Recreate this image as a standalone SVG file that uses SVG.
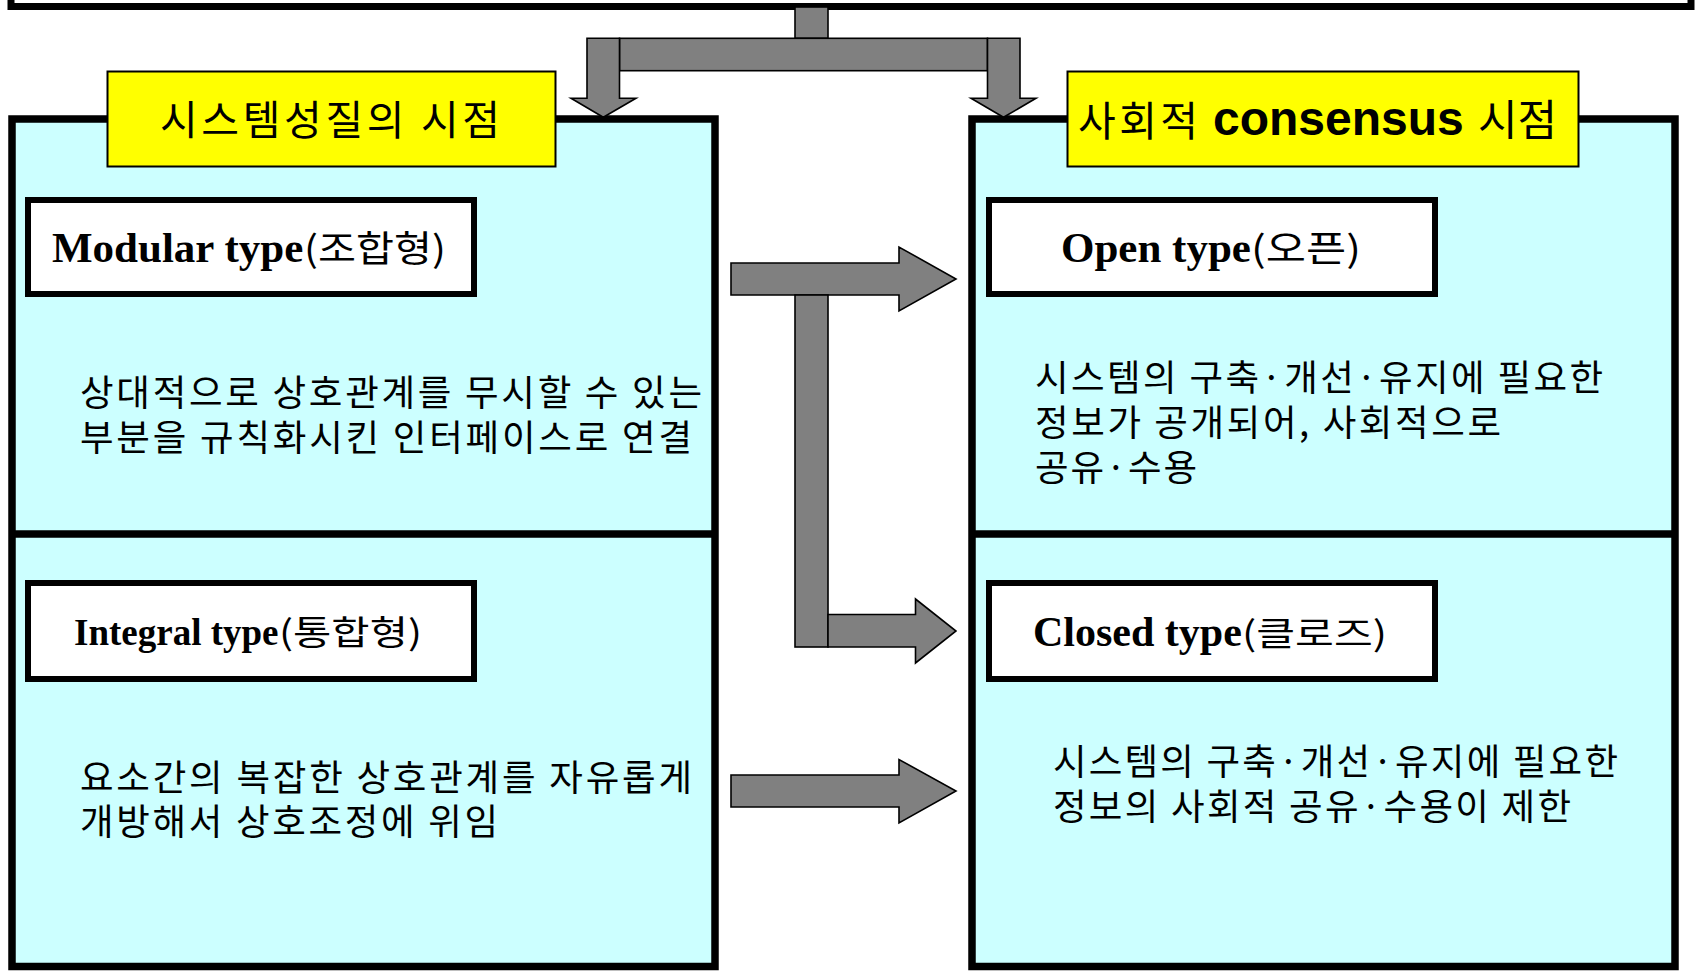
<svg xmlns="http://www.w3.org/2000/svg" width="1696" height="972" viewBox="0 0 1696 972">
  <style>
    .frame { fill: #FFFFFF; stroke: #000000; stroke-width: 7; }
    .panel { fill: #CCFFFF; stroke: #000000; stroke-width: 7.5; }
    .divider { stroke: #000000; stroke-width: 7.5; }
    .title { fill: #FFFF00; stroke: #000000; stroke-width: 2; }
    .label { fill: #FFFFFF; stroke: #000000; stroke-width: 6; }
    .conn { fill: #808080; stroke: #000000; stroke-width: 1.6; stroke-linejoin: miter; }
    .ko { font-family: "Noto Sans CJK KR", "Noto Sans CJK SC", sans-serif; fill: #000000; }
    .en { font-family: "Liberation Serif", "Times New Roman", serif; font-weight: bold; fill: #000000; }
    .ar { font-family: "Liberation Sans", Arial, sans-serif; font-weight: bold; fill: #000000; }
    .body { font-size: 36.5px; }
  </style>

  <rect width="1696" height="972" fill="#FFFFFF"/>

  <!-- parent box, only its lower edge is in view -->
  <g id="source">
    <rect class="frame" x="11" y="-30" width="1680" height="36.5"/>
  </g>

  <!-- left column: system-property viewpoint -->
  <g id="system-view">
    <rect class="panel" x="12" y="119" width="703" height="847.5"/>
    <line class="divider" x1="12" y1="534" x2="715" y2="534"/>
  </g>

  <!-- right column: social consensus viewpoint -->
  <g id="social-view">
    <rect class="panel" x="972" y="119" width="703" height="847.5"/>
    <line class="divider" x1="972" y1="534" x2="1675" y2="534"/>
  </g>

  <g id="modular">
    <rect class="label" x="28" y="200" width="446" height="94"/>
    <text x="52" y="262"><tspan class="en" font-size="43">Modular type</tspan><tspan class="ko" x="304" font-size="36" textLength="142" lengthAdjust="spacingAndGlyphs">(조합형)</tspan></text>
    <text class="ko body">
      <tspan x="80" y="406" textLength="622" lengthAdjust="spacing">상대적으로 상호관계를 무시할 수 있는</tspan>
      <tspan x="80" y="451" textLength="612" lengthAdjust="spacing">부분을 규칙화시킨 인터페이스로 연결</tspan>
    </text>
  </g>

  <g id="integral">
    <rect class="label" x="28" y="583" width="446" height="96"/>
    <text x="74" y="645"><tspan class="en" font-size="37">Integral type</tspan><tspan class="ko" x="279" font-size="34" textLength="143" lengthAdjust="spacingAndGlyphs">(통합형)</tspan></text>
    <text class="ko body">
      <tspan x="80" y="791" textLength="612" lengthAdjust="spacing">요소간의 복잡한 상호관계를 자유롭게</tspan>
      <tspan x="80" y="835" textLength="418" lengthAdjust="spacing">개방해서 상호조정에 위임</tspan>
    </text>
  </g>

  <g id="open">
    <rect class="label" x="989" y="200" width="446" height="94"/>
    <text x="1061" y="262"><tspan class="en" font-size="43">Open type</tspan><tspan class="ko" x="1251" font-size="36" textLength="110" lengthAdjust="spacingAndGlyphs">(오픈)</tspan></text>
    <text class="ko body">
      <tspan x="1035" y="391" textLength="568" lengthAdjust="spacing">시스템의 구축·개선·유지에 필요한</tspan>
      <tspan x="1035" y="436" textLength="466" lengthAdjust="spacing">정보가 공개되어, 사회적으로</tspan>
      <tspan x="1035" y="481" textLength="162" lengthAdjust="spacing">공유·수용</tspan>
    </text>
  </g>

  <g id="closed">
    <rect class="label" x="989" y="583" width="446" height="96"/>
    <text x="1033" y="646"><tspan class="en" font-size="42">Closed type</tspan><tspan class="ko" x="1242" font-size="34" textLength="145" lengthAdjust="spacingAndGlyphs">(클로즈)</tspan></text>
    <text class="ko body">
      <tspan x="1053" y="775" textLength="565" lengthAdjust="spacing">시스템의 구축·개선·유지에 필요한</tspan>
      <tspan x="1053" y="820" textLength="518" lengthAdjust="spacing">정보의 사회적 공유·수용이 제한</tspan>
    </text>
  </g>

  <!-- block arrows -->
  <g id="connectors">
    <!-- split from the parent box into both columns -->
    <rect class="conn" x="795" y="7" width="33" height="31.3"/>
    <rect class="conn" x="619.5" y="38.3" width="368" height="32.4"/>
    <polygon class="conn" points="587,38.3 619.5,38.3 619.5,98.3 636,98.3 603.3,117.3 571,98.3 587,98.3"/>
    <polygon class="conn" points="987.5,38.3 1020,38.3 1020,98.3 1036,98.3 1003.5,117.3 971,98.3 987.5,98.3"/>

    <!-- modular -> open, with a branch down to closed -->
    <polygon class="conn" points="731,263 899,263 899,247 956,279 899,311 899,295 731,295"/>
    <rect class="conn" x="795" y="295" width="33" height="352"/>
    <polygon class="conn" points="828,614.5 915.5,614.5 915.5,599 956,631 915.5,663 915.5,647 828,647"/>

    <!-- integral -> closed -->
    <polygon class="conn" points="731,775 899,775 899,759.5 956,791 899,823 899,807 731,807"/>
  </g>

  <g id="system-view-title">
    <rect class="title" x="107.5" y="71.5" width="448" height="95"/>
    <text class="ko" x="160" y="135" font-size="41" textLength="340" lengthAdjust="spacing">시스템성질의 시점</text>
  </g>

  <g id="social-view-title">
    <rect class="title" x="1067.5" y="71.5" width="511" height="95"/>
    <text y="136"><tspan class="ko" x="1078" font-size="41" textLength="120" lengthAdjust="spacing">사회적</tspan><tspan class="ar" x="1213" y="135" font-size="48">consensus</tspan><tspan class="ko" x="1478" y="136" font-size="43">시점</tspan></text>
  </g>
</svg>
